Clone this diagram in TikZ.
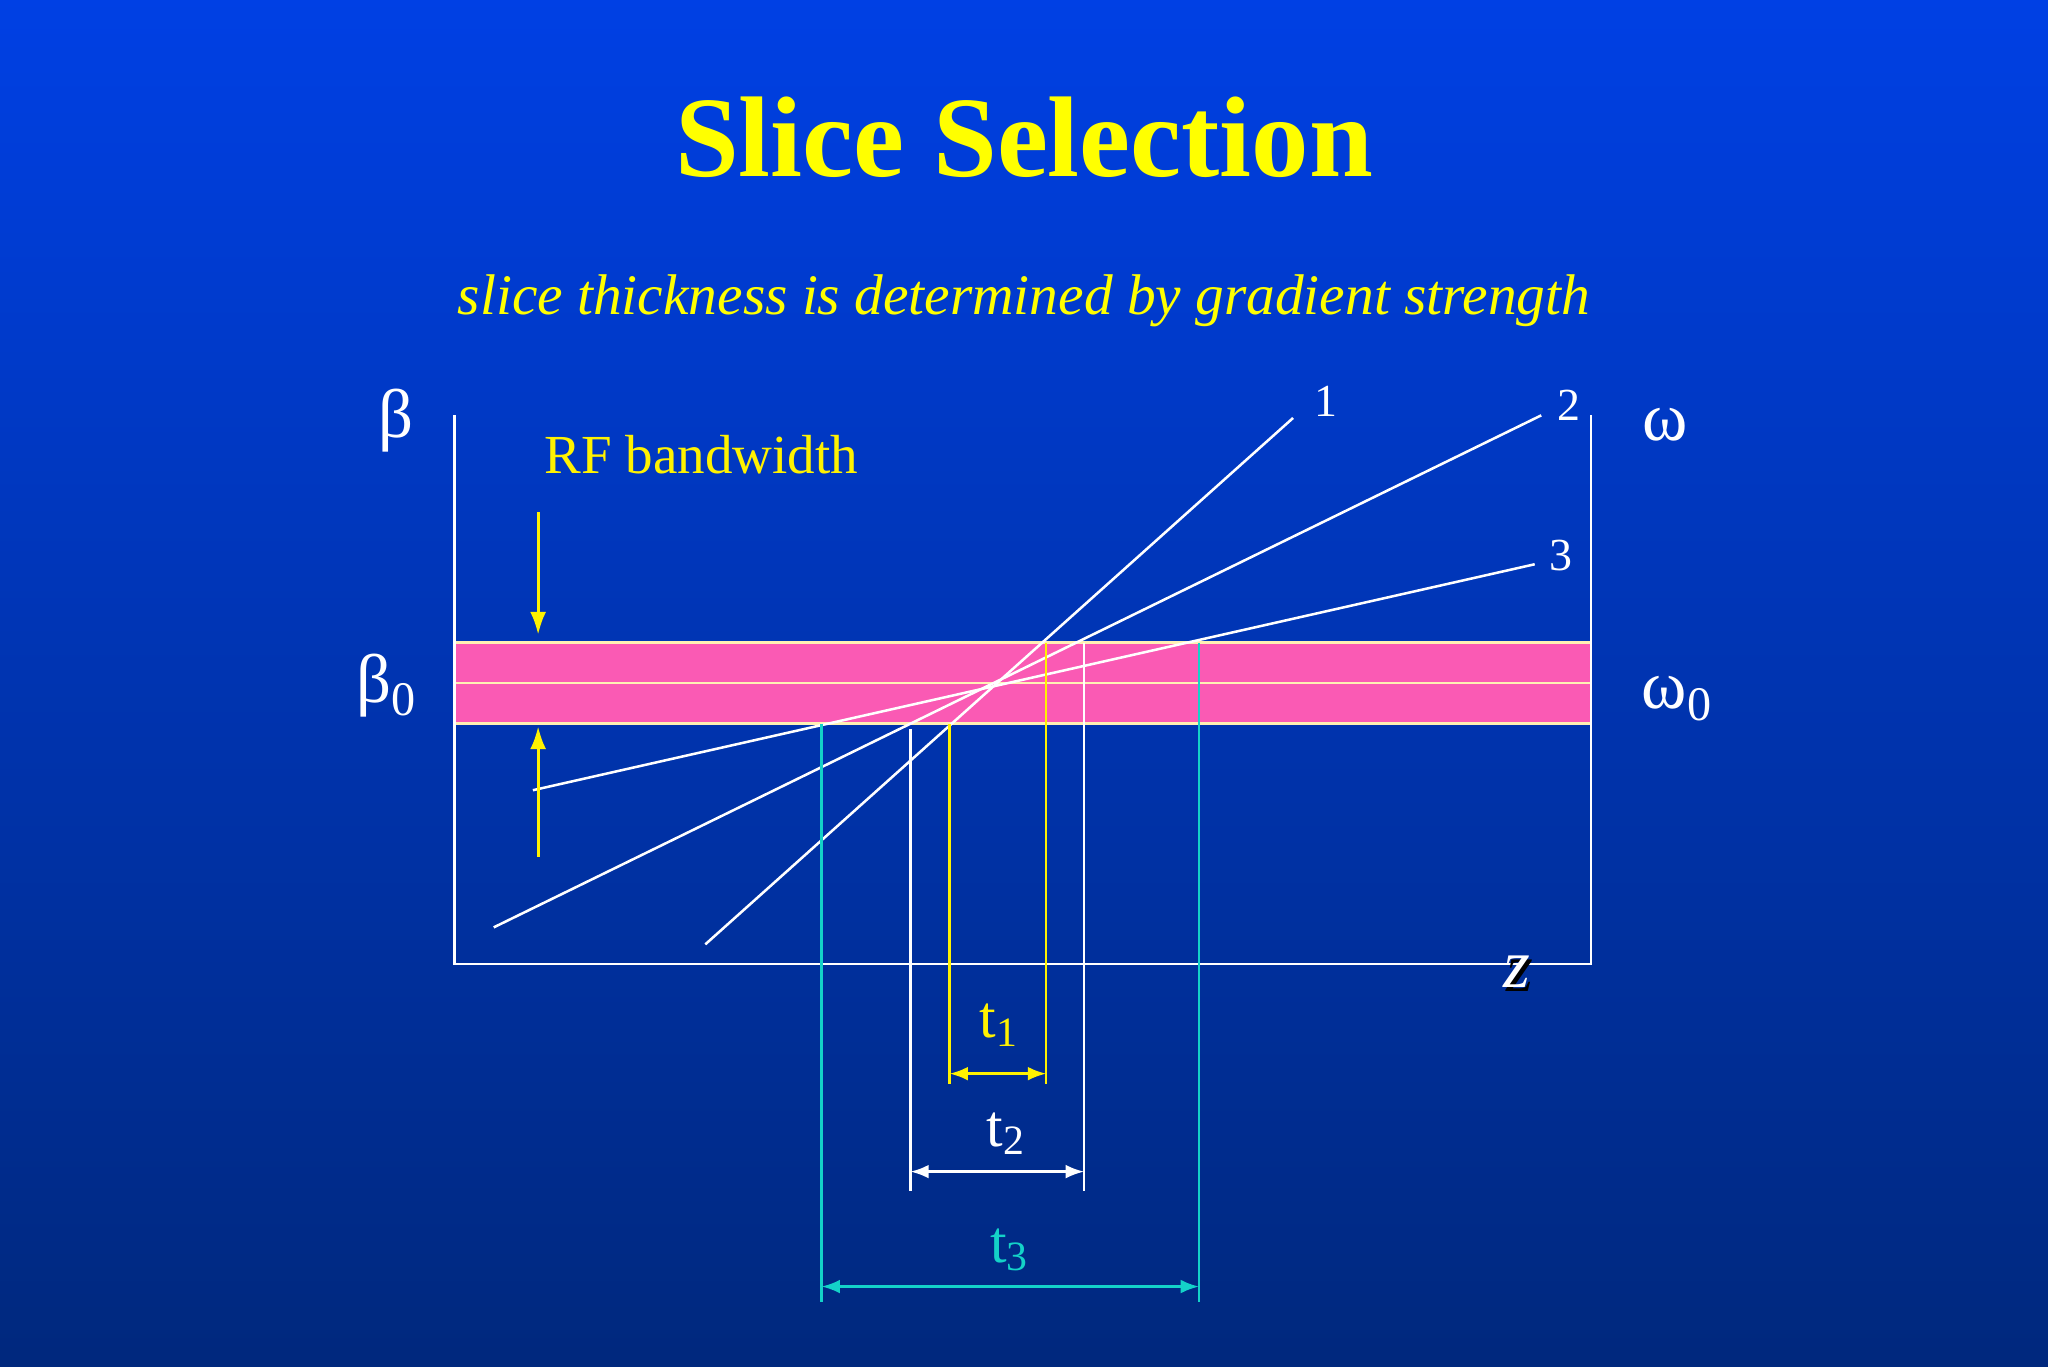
\documentclass[tikz,border=0pt]{standalone}
\usepackage{fontspec}
\setmainfont{Liberation Serif}
\usetikzlibrary{arrows.meta}
\definecolor{ttl}{RGB}{255,255,0}
\definecolor{pinkband}{RGB}{250,90,180}
\definecolor{cy}{RGB}{20,210,200}
\begin{document}
\begin{tikzpicture}[x=0.02cm,y=-0.02cm,
  thin line/.style={line width=1.1pt},
  lab/.style={text=white,font=\fontsize{26}{30}\selectfont},
  dim/.style={line width=1.1pt,{Latex[length=8pt,width=6pt]}-{Latex[length=8pt,width=6pt]}}]
\shade[top color={rgb,255:red,0;green,64;blue,228},bottom color={rgb,255:red,0;green,40;blue,125}] (0,0) rectangle (1568,1046);
\useasboundingbox (0,0) rectangle (1568,1046);
\node[text=ttl,font=\bfseries\fontsize{50}{56}\selectfont] (title) at (784,105) {Slice Selection};
\node[text=ttl,font=\itshape\fontsize{25}{30}\selectfont] (sub) at (784,230) {slice thickness is determined by gradient strength};
% band
\fill[pinkband] (348,492) rectangle (1218,554);
\draw[thin line,color={rgb,255:red,255;green,240;blue,180}] (348,492) rectangle (1218,554);
\draw[thin line,color={rgb,255:red,255;green,240;blue,180}] (348,523) -- (1218,523);
% frame
\coordinate (tl) at (348,318); \coordinate (bl) at (348,738);
\coordinate (br) at (1218,738); \coordinate (tr) at (1218,318);
\draw[thin line,white] (tl) -- (bl) -- (br) -- (tr);
% lines
\coordinate (a1) at (540,723); \coordinate (b1) at (990,320);
\coordinate (a2) at (378,710); \coordinate (b2) at (1180,318);
\coordinate (a3) at (408,605); \coordinate (b3) at (1175,432);
\draw[thin line,white] (a1) -- (b1);
\draw[thin line,white] (a2) -- (b2);
\draw[thin line,white] (a3) -- (b3);
\node[lab,font=\fontsize{20}{24}\selectfont] (n1) at (1015,307) {1};
\node[lab,font=\fontsize{20}{24}\selectfont] (n2) at (1201,310) {2};
\node[lab,font=\fontsize{20}{24}\selectfont] (n3) at (1195,425) {3};
% verticals
\draw[thin line,yellow] (727,554) -- (727,830);
\draw[thin line,yellow] (801,492) -- (801,830);
\draw[thin line,white] (697,558) -- (697,912);
\draw[thin line,white] (830,492) -- (830,912);
\draw[thin line,cy] (629,554) -- (629,997);
\draw[thin line,cy] (918,492) -- (918,997);
\coordinate (t1a) at (727,822); \coordinate (t1b) at (801,822);
\coordinate (t2a) at (697,897); \coordinate (t2b) at (830,897);
\coordinate (t3a) at (629,985); \coordinate (t3b) at (918,985);
\draw[dim,yellow] (t1a) -- (t1b);
\draw[dim,white] (t2a) -- (t2b);
\draw[dim,cy] (t3a) -- (t3b);
\node[lab,text=yellow] (t1) at (765,785) {t\textsubscript{1}};
\node[lab] (t2) at (770,868) {t\textsubscript{2}};
\node[lab,text=cy] (t3) at (773,957) {t\textsubscript{3}};
% RF arrows
\coordinate (r1) at (412,392); \coordinate (r2) at (412,486);
\coordinate (r3) at (412,656); \coordinate (r4) at (412,556);
\draw[line width=1.4pt,yellow,-{Latex[length=10pt,width=7pt]}] (r1) -- (r2);
\draw[line width=1.4pt,yellow,-{Latex[length=10pt,width=7pt]}] (r3) -- (r4);
\node[lab,text=yellow,font=\fontsize{24}{28}\selectfont] (rf) at (537,348) {RF bandwidth};
\node[lab,font=\fontsize{30}{34}\selectfont] (beta) at (303,322) {β};
\node[lab,font=\fontsize{30}{34}\selectfont] (beta0) at (296,525) {β\textsubscript{0}};
\node[lab,font=\fontsize{30}{34}\selectfont] (om) at (1275,325) {ω};
\node[lab,font=\fontsize{30}{34}\selectfont] (om0) at (1284,535) {ω\textsubscript{0}};
\node[text=black,font=\itshape\fontsize{30}{34}\selectfont] at (1164,747) {z};
\node[lab,font=\itshape\fontsize{30}{34}\selectfont] (z) at (1161,744) {z};
\end{tikzpicture}
\end{document}
